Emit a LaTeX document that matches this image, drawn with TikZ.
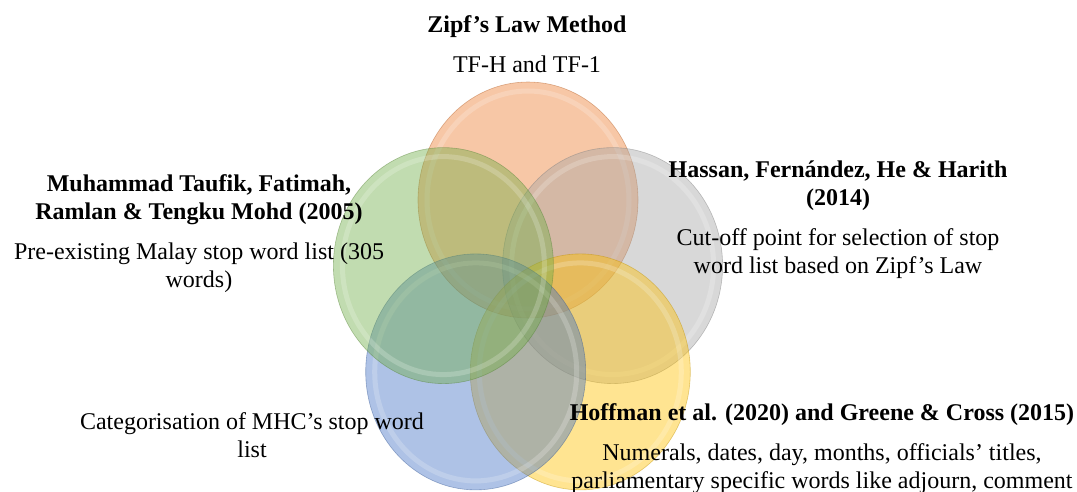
\documentclass[tikz,border=0pt]{standalone}
\usepackage{fontspec}
\setmainfont{Liberation Serif}
\usetikzlibrary{positioning,shapes.geometric}
\definecolor{vennorange}{HTML}{ED7D31}
\definecolor{venngray}{HTML}{A5A5A5}
\definecolor{vennyellow}{HTML}{FFC000}
\definecolor{vennblue}{HTML}{4472C4}
\definecolor{venngreen}{HTML}{70AD47}
\def\gapsep{15pt}
\tikzset{
  venn/.style={ellipse,minimum width=220,minimum height=236,inner sep=0,
    fill=#1,fill opacity=0.43,draw=#1!75!black,draw opacity=0.45,line width=0.6},
  rim/.style={white,line width=5,draw opacity=0.2}, % glossy inner ring
  title/.style={font=\fontsize{24}{28}\selectfont\bfseries,align=center,inner sep=1},
  desc/.style={font=\fontsize{24}{28}\selectfont,align=center,inner sep=1}
}

\begin{document}
\begin{tikzpicture}[x=1pt,y=-1pt]
	\useasboundingbox (0,0) rectangle (1077,492);

	% Circles, clockwise from the top
	\foreach \name/\col/\cx/\cy in {zipf/vennorange/528/200,hassan/venngray/612.6/265.6,
		hoffman/vennyellow/580.3/371.9,mhc/vennblue/475.7/371.9,taufik/venngreen/443.4/265.6}{
			\node[venn=\col] (c\name) at (\cx,\cy) {};
			\draw[rim] (c\name.center) ellipse (101 and 109);
		}

	% Labels
	\node[title] (tzipf) at (527,27) {Zipf's Law Method};
	\node[desc, below=\gapsep of tzipf] (dzipf) {TF-H and TF-1};

	\node[title] (ttaufik) at (199,200) {Muhammad Taufik, Fatimah,\\ Ramlan \& Tengku Mohd (2005)};
	\node[desc, below=\gapsep of ttaufik] (dtaufik) {Pre-existing Malay stop word list (305\\ words)};

	\node[title] (thassan) at (838,186) {Hassan, Fernández, He \& Harith\\ (2014)};
	\node[desc, below=\gapsep of thassan] (dhassan) {Cut-off point for selection of stop\\ word list based on Zipf's Law};

	\node[desc] (dmhc) at (252,435) {Categorisation of MHC's stop word\\ list};

	\node[title] (thoffman) at (822,415) {Hoffman et al. (2020) and Greene \& Cross (2015)};
	\node[desc, below=\gapsep of thoffman] (dhoffman) {Numerals, dates, day, months, officials' titles,\\ parliamentary specific words like adjourn, comment};
\end{tikzpicture}
\end{document}
